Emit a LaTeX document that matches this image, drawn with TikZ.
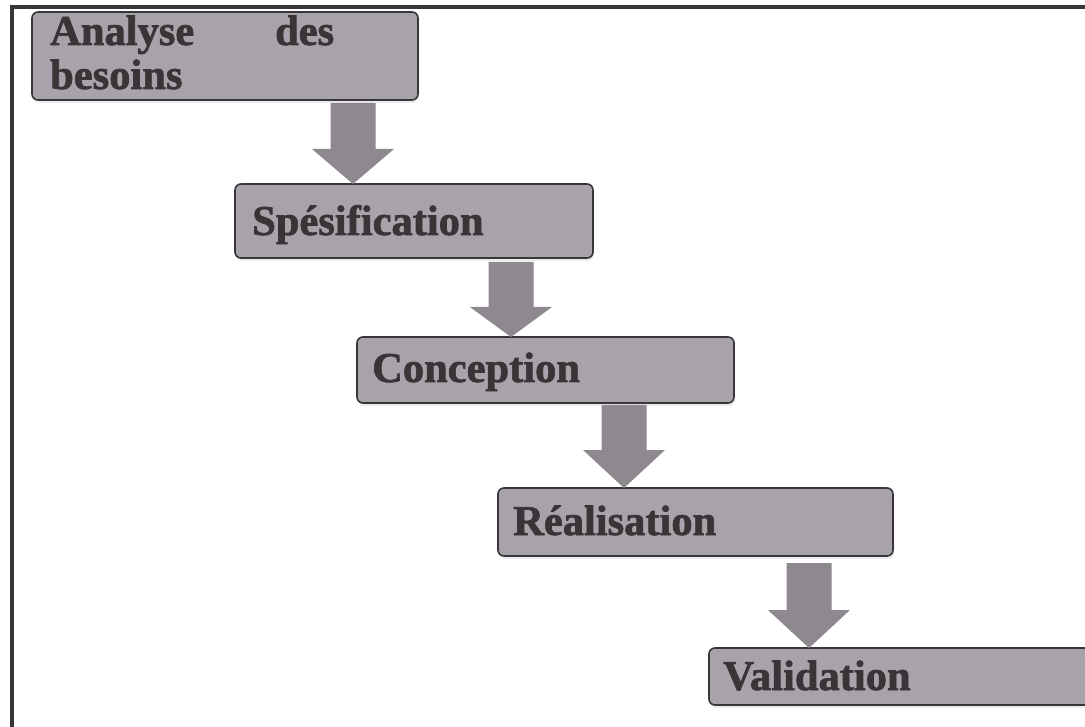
\documentclass[tikz,border=0pt]{standalone}
\usepackage{fontspec}
\setmainfont{Liberation Serif}[BoldFeatures={FakeBold=1.6}]
\usetikzlibrary{calc,shadows}
\definecolor{boxgray}{HTML}{A8A3AA}
\definecolor{arrowgray}{HTML}{8E898F}
\definecolor{edgegray}{HTML}{383638}
\definecolor{inkgray}{HTML}{3B3437}
% block arrow: #1 upper node, #2 lower node, #3 axis coordinate, #4 gap below #1, #5 head length
\newcommand\stagearrow[5]{%
  \path[stagearrowfill] let \p1=(#1.south -| #3), \p2=(#2.north -| #3) in
    (\x1-22.5pt,\y1-#4) -- (\x1+22.5pt,\y1-#4) -- (\x1+22.5pt,\y2+#5)
    -- (\x1+41pt,\y2+#5) -- (\x2,\y2) -- (\x1-41pt,\y2+#5)
    -- (\x1-22.5pt,\y2+#5) -- cycle;}
\begin{document}
\begin{tikzpicture}[x=1pt,y=-1pt,
  phase/.style={draw=edgegray, line width=1.6pt, fill=boxgray,
    rounded corners=6pt, inner sep=0pt, outer sep=0pt,
    drop shadow={shadow xshift=1pt, shadow yshift=-3pt, fill=black!10, opacity=.7}},
  phasetext/.style={inner sep=0pt, anchor=base west, text=inkgray,
    font=\bfseries\fontsize{42.5}{44}\selectfont},
  stagearrowfill/.style={fill=arrowgray},
  frameline/.style={draw=edgegray, line width=4pt}]
\useasboundingbox (0,0) rectangle (1085,727);
\clip (0,0) rectangle (1085,727);
\fill[white] (0,0) rectangle (1085,727);

% outer frame (top and left sides)
\draw[frameline] (12,727) -- (12,7) -- (1090,7);

% axis positions of the arrows
\coordinate (ax1) at (353,0);
\coordinate (ax2) at (511,0);
\coordinate (ax3) at (624,0);
\coordinate (ax4) at (809,0);

% phase boxes
\node[phase, minimum width=386pt, minimum height=88pt] (need)  at (225,56) {};
\node[phase, minimum width=358pt, minimum height=74pt] (spec)  at (414,221) {};
\node[phase, minimum width=377pt, minimum height=66pt] (conc)  at (545.5,370) {};
\node[phase, minimum width=395pt, minimum height=68pt] (real)  at (695.5,522) {};
\node[phase, minimum width=391pt, minimum height=57pt] (valid) at (904.5,676.5) {};

% arrows between phases
\stagearrow{need}{spec}{ax1}{3pt}{35pt}
\stagearrow{spec}{conc}{ax2}{4pt}{30pt}
\stagearrow{conc}{real}{ax3}{2pt}{38pt}
\stagearrow{real}{valid}{ax4}{7pt}{38pt}

% phase labels
\node[phasetext, text width=284pt, align=left] (needtxt) at (50,45) {Analyse\hfill des\\besoins};
\node[phasetext] (spectxt)  at (252,235) {Spésification};
\node[phasetext] (conctxt)  at (372,382) {Conception};
\node[phasetext] (realtxt)  at (513,535) {Réalisation};
\node[phasetext] (validtxt) at (723,690) {Validation};
\end{tikzpicture}
\end{document}
